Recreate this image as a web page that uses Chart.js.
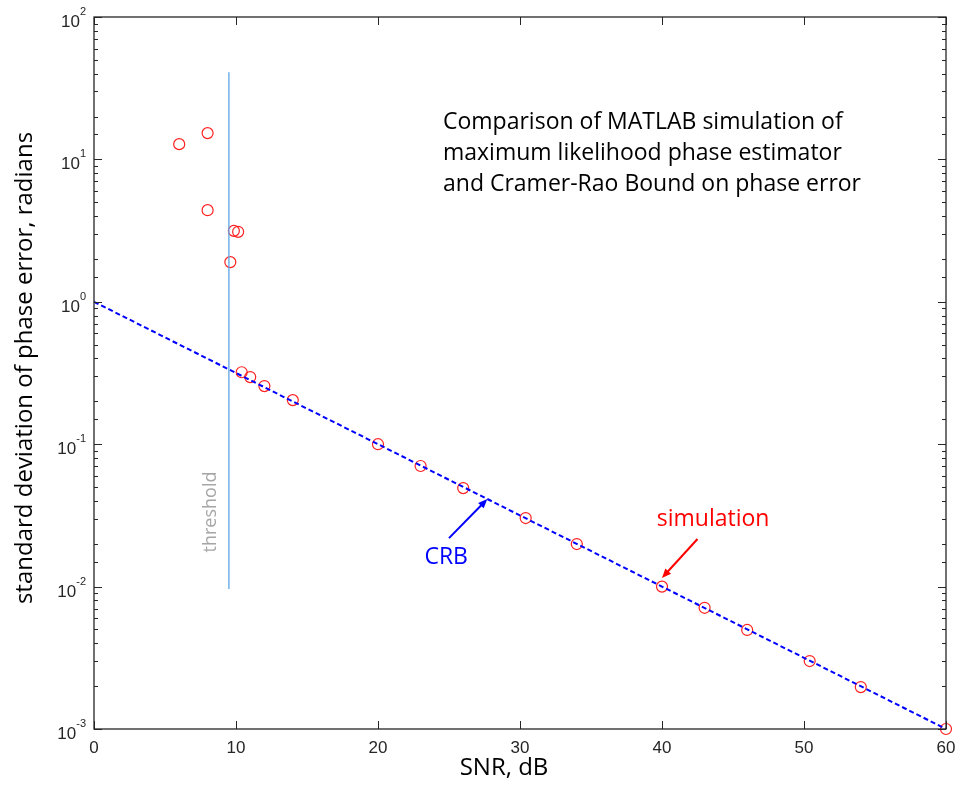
<!DOCTYPE html>
<html>
<head>
<meta charset="utf-8">
<script src="https://cdn.jsdelivr.net/npm/chart.js@4.4.0/dist/chart.umd.min.js"></script>
<style>
  html, body { margin: 0; padding: 0; background: #fff; }
  #grafico { display: block; }
</style>
</head>
<body>
<canvas id="grafico" width="956" height="785"></canvas>
<script>
// -------- DADOS --------
const snrSim = [6, 8, 8, 9.6, 9.85, 10.15, 10.4, 11, 12, 14, 20, 23, 26, 30.4, 34, 40, 43, 46, 50.4, 54, 60];
const desvioSim = [12.8, 15.3, 4.4, 1.9, 3.15, 3.1, 0.32, 0.296, 0.256, 0.204, 0.1, 0.0703, 0.0492, 0.0303, 0.0199, 0.01, 0.0071, 0.00496, 0.003, 0.00197, 0.001];

const snrCrb = [0, 60];
const desvioCrb = [1, 0.001];

const snrLimiar = [9.5, 9.5];
const desvioLimiar = [0.0096, 41];

const xTicks = [0, 10, 20, 30, 40, 50, 60];
const yDecadas = [-3, -2, -1, 0, 1, 2];

const textoTitulo = [
  "Comparison of MATLAB simulation of",
  "maximum likelihood phase estimator",
  "and Cramer-Rao Bound on phase error"
];

const COR_EIXO = "#262626";
const FONTE_TEXTO = "'Open Sans', 'Noto Sans', sans-serif";
const FONTE_EIXO = "'Liberation Sans', Arial, sans-serif";

const toPts = (xs, ys) => xs.map((x, i) => ({ x, y: ys[i] }));

// -------- PLUGIN: caixa, ticks e anotacoes --------
function seta(ctx, x1, y1, x2, y2, cor) {
  const ang = Math.atan2(y2 - y1, x2 - x1);
  const tam = 10;
  ctx.save();
  ctx.strokeStyle = cor;
  ctx.fillStyle = cor;
  ctx.lineWidth = 2;
  ctx.beginPath();
  ctx.moveTo(x1, y1);
  ctx.lineTo(x2 - Math.cos(ang) * tam * 0.8, y2 - Math.sin(ang) * tam * 0.8);
  ctx.stroke();
  ctx.beginPath();
  ctx.moveTo(x2, y2);
  ctx.lineTo(x2 - tam * Math.cos(ang - 0.4), y2 - tam * Math.sin(ang - 0.4));
  ctx.lineTo(x2 - tam * Math.cos(ang + 0.4), y2 - tam * Math.sin(ang + 0.4));
  ctx.closePath();
  ctx.fill();
  ctx.restore();
}

const estiloMatlab = {
  id: "estiloMatlab",
  afterDraw(chart) {
    const { ctx, chartArea: a, scales } = chart;
    const sx = scales.x, sy = scales.y;

    ctx.save();
    ctx.strokeStyle = COR_EIXO;
    ctx.lineWidth = 1;

    // ticks para dentro (estilo MATLAB)
    ctx.beginPath();
    xTicks.forEach((v) => {
      const px = Math.round(sx.getPixelForValue(v)) + 0.5;
      ctx.moveTo(px, a.bottom); ctx.lineTo(px, a.bottom - 8);
      ctx.moveTo(px, a.top); ctx.lineTo(px, a.top + 8);
    });
    sy.ticks.forEach((t) => {
      const v = t.value;
      if (v < sy.min || v > sy.max) return;
      const maior = Math.abs(Math.log10(v) - Math.round(Math.log10(v))) < 1e-9;
      const len = maior ? 8 : 4;
      const py = Math.round(sy.getPixelForValue(v)) + 0.5;
      ctx.moveTo(a.left, py); ctx.lineTo(a.left + len, py);
      ctx.moveTo(a.right, py); ctx.lineTo(a.right - len, py);
    });
    ctx.stroke();

    // caixa
    ctx.lineWidth = 1.3;
    ctx.strokeRect(a.left, a.top, a.right - a.left, a.bottom - a.top);

    // rotulos do eixo y: 10^k
    ctx.fillStyle = COR_EIXO;
    ctx.textBaseline = "alphabetic";
    yDecadas.forEach((k) => {
      const py = sy.getPixelForValue(Math.pow(10, k));
      const exp = String(k);
      ctx.font = "11px " + FONTE_EIXO;
      const wExp = ctx.measureText(exp).width;
      const xFim = a.left - 8;
      ctx.textAlign = "left";
      ctx.fillText(exp, xFim - wExp, py - 2);
      ctx.font = "17px " + FONTE_EIXO;
      ctx.textAlign = "right";
      ctx.fillText("10", xFim - wExp, py + 10);
    });

    // titulos dos eixos
    ctx.fillStyle = "#000";
    ctx.font = "24px " + FONTE_TEXTO;
    ctx.textAlign = "center";
    ctx.textBaseline = "middle";
    ctx.fillText("SNR, dB", 504, 768);
    ctx.save();
    ctx.translate(25, 368);
    ctx.rotate(-Math.PI / 2);
    ctx.fillText("standard deviation of phase error, radians", 0, 0);
    ctx.restore();

    // texto explicativo
    ctx.font = "23px " + FONTE_TEXTO;
    ctx.textAlign = "left";
    ctx.textBaseline = "alphabetic";
    textoTitulo.forEach((linha, i) => {
      ctx.fillText(linha, 443, 129 + i * 31);
    });

    // rotulo do limiar
    ctx.save();
    ctx.fillStyle = "#a6a6a6";
    ctx.font = "18px " + FONTE_TEXTO;
    ctx.textAlign = "center";
    ctx.textBaseline = "middle";
    ctx.translate(sx.getPixelForValue(8.2), sy.getPixelForValue(0.0334));
    ctx.rotate(-Math.PI / 2);
    ctx.fillText("threshold", 0, 0);
    ctx.restore();

    // anotacoes com setas
    ctx.font = "23px " + FONTE_TEXTO;
    ctx.textAlign = "center";
    ctx.textBaseline = "middle";
    ctx.fillStyle = "#ff0000";
    ctx.fillText("simulation", sx.getPixelForValue(43.6), sy.getPixelForValue(0.0298));
    seta(ctx, sx.getPixelForValue(42.5), sy.getPixelForValue(0.0216),
      sx.getPixelForValue(40.0), sy.getPixelForValue(0.0115), "#ff0000");

    ctx.fillStyle = "#0000ff";
    ctx.fillText("CRB", sx.getPixelForValue(24.8), sy.getPixelForValue(0.0159));
    seta(ctx, sx.getPixelForValue(25.0), sy.getPixelForValue(0.0219),
      sx.getPixelForValue(27.7), sy.getPixelForValue(0.0412), "#0000ff");

    ctx.restore();
  }
};

// -------- GRAFICO --------
const ctx = document.getElementById("grafico").getContext("2d");
const chart = new Chart(ctx, {
  type: "scatter",
  data: {
    datasets: [
      {
        label: "threshold",
        type: "line",
        data: toPts(snrLimiar, desvioLimiar),
        borderColor: "#5aa6e6",
        borderWidth: 1.3,
        pointRadius: 0,
        fill: false
      },
      {
        label: "CRB",
        type: "line",
        data: toPts(snrCrb, desvioCrb),
        borderColor: "#0000ff",
        borderWidth: 2,
        borderDash: [5, 3],
        pointRadius: 0,
        fill: false
      },
      {
        label: "simulation",
        data: toPts(snrSim, desvioSim),
        clip: false,
        pointStyle: "circle",
        pointRadius: 5.5,
        pointBorderWidth: 1.2,
        pointBorderColor: "#ff2020",
        pointBackgroundColor: "rgba(0,0,0,0)"
      }
    ]
  },
  options: {
    responsive: false,
    animation: false,
    devicePixelRatio: 1,
    layout: { padding: { top: 17, right: 10, left: 0, bottom: 0 } },
    plugins: {
      legend: { display: false },
      tooltip: { enabled: false }
    },
    scales: {
      x: {
        type: "linear",
        min: 0,
        max: 60,
        afterFit: (s) => { s.height = 56; s.paddingLeft = 0; s.paddingRight = 0; },
        afterBuildTicks: (s) => { s.ticks = xTicks.map((v) => ({ value: v })); },
        grid: { display: false, drawTicks: false },
        border: { display: false },
        ticks: {
          padding: 9,
          color: COR_EIXO,
          font: { family: FONTE_EIXO, size: 17 }
        }
      },
      y: {
        type: "logarithmic",
        min: 0.001,
        max: 100,
        afterFit: (s) => { s.width = 94; },
        grid: { display: false, drawTicks: false },
        border: { display: false },
        ticks: { display: false }
      }
    }
  },
  plugins: [estiloMatlab]
});
</script>
</body>
</html>
